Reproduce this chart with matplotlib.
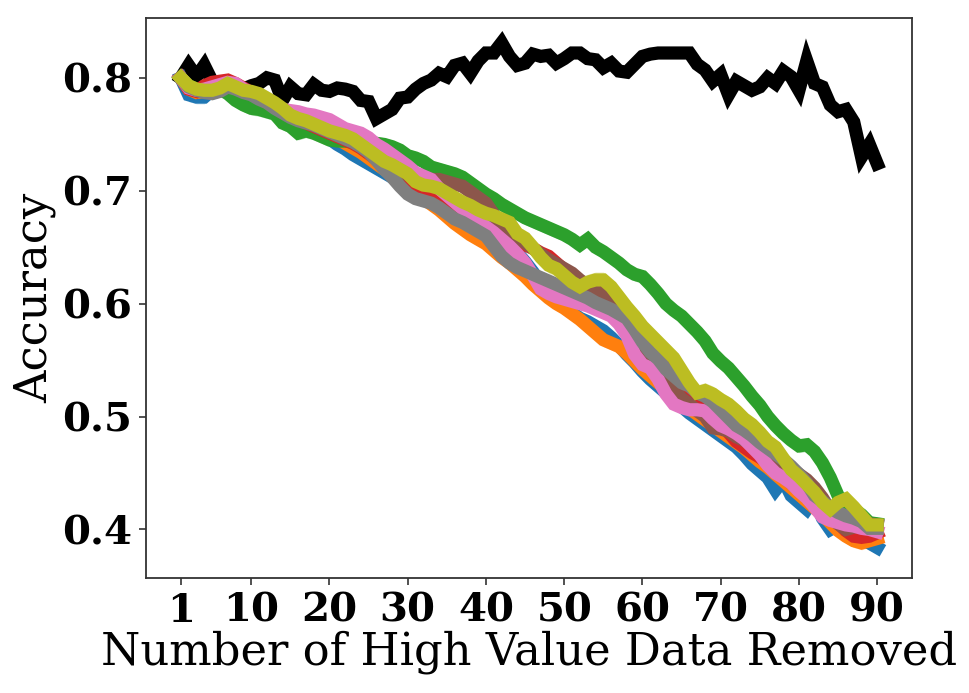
import numpy as np
import matplotlib
matplotlib.use("Agg")
import matplotlib.pyplot as plt

x_removed = list(range(1, 91))
x_ticks = [1, 10, 20, 30, 40, 50, 60, 70, 80, 90]
y_ticks = [0.4, 0.5, 0.6, 0.7, 0.8]

acc_black = [0.800, 0.811, 0.801, 0.811, 0.797, 0.793, 0.792, 0.788, 0.790, 0.793,
             0.795, 0.800, 0.798, 0.780, 0.792, 0.786, 0.785, 0.794, 0.789, 0.788,
             0.791, 0.790, 0.788, 0.780, 0.779, 0.764, 0.768, 0.772, 0.782, 0.783,
             0.790, 0.795, 0.798, 0.804, 0.801, 0.811, 0.813, 0.804, 0.815, 0.822,
             0.822, 0.831, 0.819, 0.811, 0.813, 0.821, 0.819, 0.820, 0.813, 0.817,
             0.822, 0.822, 0.817, 0.816, 0.809, 0.813, 0.806, 0.805, 0.812, 0.819,
             0.821, 0.822, 0.822, 0.822, 0.822, 0.822, 0.812, 0.807, 0.797, 0.803,
             0.785, 0.797, 0.793, 0.789, 0.792, 0.800, 0.795, 0.806, 0.801, 0.789,
             0.815, 0.795, 0.792, 0.776, 0.770, 0.772, 0.761, 0.730, 0.741, 0.724]

acc_blue = [0.800, 0.785, 0.783, 0.783, 0.789, 0.792, 0.794, 0.792, 0.789, 0.785,
            0.781, 0.777, 0.773, 0.769, 0.765, 0.762, 0.759, 0.755, 0.751, 0.746,
            0.741, 0.737, 0.732, 0.728, 0.724, 0.720, 0.716, 0.712, 0.708, 0.704,
            0.700, 0.697, 0.694, 0.690, 0.687, 0.684, 0.681, 0.678, 0.675, 0.673,
            0.668, 0.660, 0.652, 0.645, 0.637, 0.628, 0.618, 0.607, 0.601, 0.597,
            0.592, 0.587, 0.584, 0.580, 0.576, 0.570, 0.563, 0.555, 0.548, 0.540,
            0.533, 0.527, 0.521, 0.515, 0.509, 0.503, 0.498, 0.493, 0.488, 0.483,
            0.478, 0.473, 0.466, 0.458, 0.452, 0.446, 0.435, 0.444, 0.430, 0.424,
            0.418, 0.428, 0.410, 0.400, 0.404, 0.398, 0.394, 0.391, 0.388, 0.384]

acc_orange = [0.800, 0.790, 0.787, 0.788, 0.790, 0.792, 0.794, 0.792, 0.789, 0.786,
              0.782, 0.778, 0.774, 0.770, 0.766, 0.762, 0.759, 0.756, 0.753, 0.750,
              0.746, 0.742, 0.738, 0.734, 0.729, 0.724, 0.719, 0.714, 0.709, 0.703,
              0.698, 0.693, 0.688, 0.683, 0.677, 0.671, 0.666, 0.661, 0.657, 0.653,
              0.647, 0.641, 0.636, 0.630, 0.624, 0.617, 0.611, 0.605, 0.600, 0.596,
              0.591, 0.586, 0.580, 0.574, 0.568, 0.565, 0.562, 0.556, 0.549, 0.542,
              0.536, 0.530, 0.524, 0.518, 0.512, 0.507, 0.502, 0.497, 0.492, 0.487,
              0.482, 0.477, 0.472, 0.466, 0.460, 0.455, 0.449, 0.443, 0.437, 0.431,
              0.425, 0.419, 0.413, 0.406, 0.399, 0.394, 0.390, 0.388, 0.390, 0.392]

acc_green = [0.800, 0.793, 0.790, 0.790, 0.792, 0.790, 0.786, 0.780, 0.776, 0.773,
             0.772, 0.770, 0.768, 0.760, 0.757, 0.751, 0.753, 0.751, 0.748, 0.745,
             0.744, 0.744, 0.743, 0.742, 0.741, 0.742, 0.741, 0.739, 0.736, 0.731,
             0.729, 0.726, 0.721, 0.719, 0.717, 0.715, 0.712, 0.707, 0.702, 0.697,
             0.693, 0.688, 0.684, 0.680, 0.676, 0.673, 0.670, 0.667, 0.664, 0.661,
             0.657, 0.652, 0.657, 0.650, 0.646, 0.641, 0.636, 0.630, 0.626, 0.624,
             0.617, 0.609, 0.600, 0.594, 0.589, 0.582, 0.575, 0.567, 0.556, 0.549,
             0.543, 0.535, 0.527, 0.518, 0.510, 0.500, 0.492, 0.485, 0.479, 0.474,
             0.475, 0.469, 0.459, 0.446, 0.430, 0.421, 0.418, 0.413, 0.406, 0.405]

acc_red = [0.800, 0.790, 0.788, 0.793, 0.796, 0.797, 0.798, 0.795, 0.791, 0.787,
           0.783, 0.779, 0.775, 0.771, 0.767, 0.763, 0.760, 0.757, 0.754, 0.751,
           0.748, 0.745, 0.742, 0.738, 0.733, 0.728, 0.723, 0.717, 0.712, 0.708,
           0.704, 0.701, 0.698, 0.694, 0.690, 0.686, 0.681, 0.675, 0.669, 0.663,
           0.659, 0.655, 0.654, 0.653, 0.652, 0.649, 0.645, 0.642, 0.636, 0.630,
           0.625, 0.620, 0.612, 0.605, 0.598, 0.591, 0.583, 0.575, 0.566, 0.558,
           0.552, 0.548, 0.545, 0.536, 0.527, 0.520, 0.515, 0.508, 0.500, 0.494,
           0.486, 0.478, 0.473, 0.468, 0.464, 0.459, 0.454, 0.447, 0.441, 0.435,
           0.429, 0.423, 0.416, 0.410, 0.406, 0.399, 0.394, 0.393, 0.394, 0.397]

acc_brown = [0.800, 0.792, 0.789, 0.789, 0.790, 0.792, 0.794, 0.793, 0.790, 0.787,
             0.783, 0.779, 0.775, 0.771, 0.768, 0.765, 0.762, 0.759, 0.756, 0.753,
             0.750, 0.747, 0.744, 0.740, 0.735, 0.730, 0.726, 0.721, 0.717, 0.714,
             0.712, 0.711, 0.710, 0.710, 0.708, 0.706, 0.704, 0.699, 0.694, 0.689,
             0.679, 0.668, 0.663, 0.658, 0.654, 0.649, 0.644, 0.639, 0.635, 0.631,
             0.627, 0.621, 0.616, 0.613, 0.608, 0.603, 0.596, 0.582, 0.568, 0.557,
             0.550, 0.540, 0.531, 0.524, 0.516, 0.511, 0.505, 0.500, 0.490, 0.489,
             0.487, 0.482, 0.479, 0.475, 0.471, 0.467, 0.463, 0.459, 0.454, 0.449,
             0.444, 0.437, 0.428, 0.417, 0.405, 0.400, 0.402, 0.404, 0.405, 0.404]

acc_pink = [0.800, 0.791, 0.789, 0.790, 0.792, 0.794, 0.796, 0.795, 0.790, 0.787,
            0.783, 0.780, 0.776, 0.772, 0.771, 0.770, 0.768, 0.767, 0.765, 0.763,
            0.759, 0.755, 0.753, 0.751, 0.747, 0.741, 0.737, 0.732, 0.727, 0.722,
            0.716, 0.713, 0.710, 0.702, 0.696, 0.690, 0.684, 0.677, 0.673, 0.668,
            0.663, 0.657, 0.651, 0.644, 0.636, 0.625, 0.613, 0.609, 0.606, 0.604,
            0.602, 0.600, 0.598, 0.595, 0.592, 0.589, 0.582, 0.572, 0.555, 0.546,
            0.543, 0.533, 0.520, 0.511, 0.508, 0.506, 0.506, 0.505, 0.498, 0.492,
            0.489, 0.485, 0.480, 0.473, 0.466, 0.457, 0.450, 0.446, 0.441, 0.434,
            0.428, 0.420, 0.411, 0.408, 0.406, 0.404, 0.403, 0.401, 0.400, 0.398]

acc_gray = [0.800, 0.792, 0.789, 0.787, 0.786, 0.788, 0.792, 0.790, 0.787, 0.785,
            0.781, 0.778, 0.773, 0.769, 0.765, 0.762, 0.760, 0.758, 0.755, 0.752,
            0.749, 0.746, 0.743, 0.739, 0.734, 0.727, 0.719, 0.712, 0.704, 0.697,
            0.693, 0.691, 0.689, 0.685, 0.680, 0.675, 0.672, 0.668, 0.664, 0.660,
            0.651, 0.642, 0.636, 0.632, 0.629, 0.626, 0.623, 0.620, 0.617, 0.614,
            0.611, 0.608, 0.605, 0.601, 0.598, 0.595, 0.591, 0.587, 0.577, 0.566,
            0.557, 0.551, 0.542, 0.536, 0.530, 0.527, 0.521, 0.518, 0.513, 0.506,
            0.499, 0.492, 0.488, 0.483, 0.477, 0.472, 0.467, 0.462, 0.456, 0.449,
            0.441, 0.430, 0.425, 0.419, 0.415, 0.412, 0.410, 0.407, 0.401, 0.401]

acc_olive = [0.800, 0.793, 0.790, 0.789, 0.789, 0.791, 0.795, 0.792, 0.789, 0.788,
             0.786, 0.782, 0.778, 0.773, 0.767, 0.764, 0.762, 0.759, 0.756, 0.753,
             0.751, 0.749, 0.746, 0.741, 0.736, 0.731, 0.726, 0.723, 0.719, 0.715,
             0.708, 0.705, 0.704, 0.702, 0.698, 0.694, 0.690, 0.687, 0.683, 0.680,
             0.678, 0.675, 0.672, 0.662, 0.658, 0.650, 0.641, 0.634, 0.631, 0.625,
             0.619, 0.615, 0.619, 0.621, 0.621, 0.615, 0.606, 0.597, 0.589, 0.580,
             0.573, 0.566, 0.559, 0.552, 0.541, 0.530, 0.521, 0.523, 0.520, 0.515,
             0.511, 0.505, 0.498, 0.493, 0.486, 0.478, 0.473, 0.463, 0.453, 0.447,
             0.440, 0.433, 0.424, 0.418, 0.424, 0.427, 0.420, 0.412, 0.404, 0.404]

# drawing order: black first, then tab10 colours (purple not used)
series = [acc_black, acc_blue, acc_orange, acc_green, acc_red,
          acc_brown, acc_pink, acc_gray, acc_olive]
colors = ["black", "tab:blue", "tab:orange", "tab:green", "tab:red",
          "tab:brown", "tab:pink", "tab:gray", "tab:olive"]
spread = [0.002, 0.006, 0.006, 0.006, 0.004, 0.005, 0.005, 0.005, 0.007]

plt.rcParams['font.family'] = ['DejaVu Serif']

fig = plt.figure(figsize=(9.69, 6.93), dpi=100)
ax = fig.add_axes([146 / 969, 1 - 578 / 693, (912 - 146) / 969, (578 - 18) / 693])

xs = np.array(x_removed)
for vals, c, s in zip(series, colors, spread):
    v = np.array(vals)
    ax.plot(xs, v, color=c, linewidth=9.5, solid_joinstyle='miter')
    ax.fill_between(xs, v - s, v + s, color=c, alpha=0.3, linewidth=0)

ax.set_xlim(-3.45, 94.45)
ax.set_ylim(0.357, 0.853)
ax.set_xticks(x_ticks)
ax.set_xticklabels([str(t) for t in x_ticks])
ax.set_yticks(y_ticks)
ax.set_yticklabels([f"{t:.1f}" for t in y_ticks])
for lab in ax.get_xticklabels() + ax.get_yticklabels():
    lab.set_fontweight('bold')
    lab.set_fontsize(29)
ax.tick_params(axis='both', length=5, width=1.2, color='#333333', pad=5)
for sp in ax.spines.values():
    sp.set_color('#333333')
    sp.set_linewidth(1.3)

ax.set_xlabel("Number of High Value Data Removed", fontsize=32.3, labelpad=0)
ax.set_ylabel("Accuracy", fontsize=32.3, labelpad=4)

fig.savefig("out.png", dpi=100)
